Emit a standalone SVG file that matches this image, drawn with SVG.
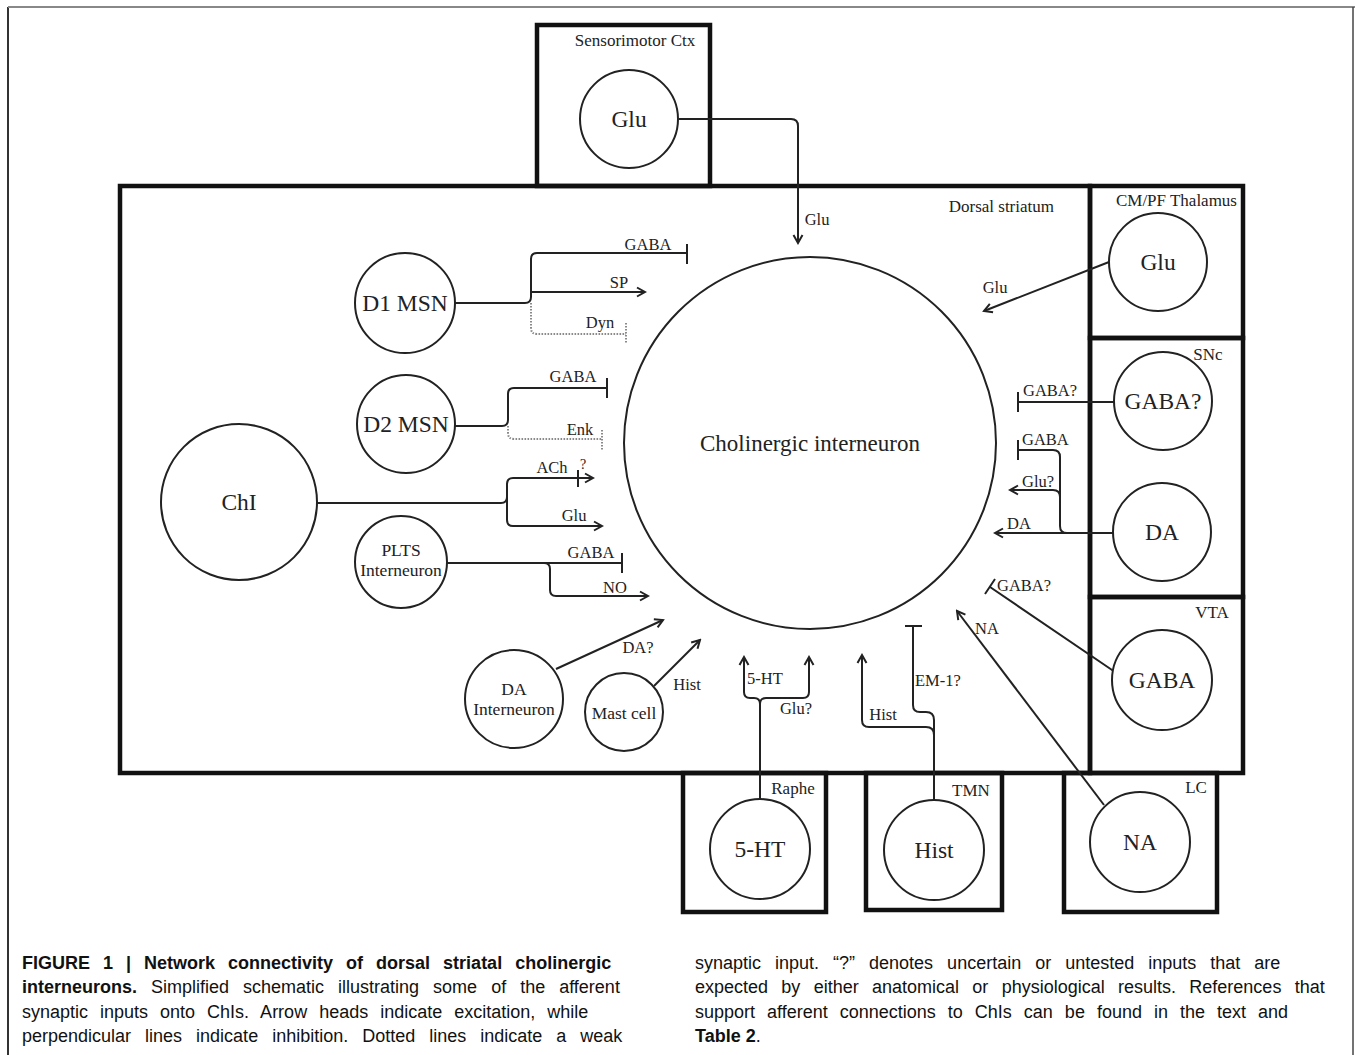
<svg xmlns="http://www.w3.org/2000/svg" width="1355" height="1055" viewBox="0 0 1355 1055">
<style>
.box{fill:none;stroke:#111;stroke-width:4.5}
.cell{fill:#fff;stroke:#222;stroke-width:2}
.ln{fill:none;stroke:#222;stroke-width:2}
.dot{fill:none;stroke:#8a8a8a;stroke-width:2;stroke-dasharray:1.6 1.4}
.lbl{font-family:"Liberation Serif","Times New Roman",serif;fill:#222}
.n{font-size:23.5px;text-anchor:middle}
.sm{font-size:17.5px;text-anchor:middle}
.s{font-size:16.5px}
.r{font-size:17px}
.m{text-anchor:middle}
.e{text-anchor:end}
.cap{font-family:"Liberation Sans",Arial,sans-serif;font-size:18px;fill:#111}
.b{font-weight:bold}
</style>
<defs>
<marker id="arr" markerWidth="12" markerHeight="12" viewBox="0 0 12 12" refX="10" refY="6" orient="auto" markerUnits="userSpaceOnUse">
<path d="M2,1.5 L10,6 L2,10.5" fill="none" stroke="#222" stroke-width="2"/>
</marker>
</defs>
<rect width="1355" height="1055" fill="#fff"/>
<g id="frame">
<path d="M8,1055 V7" stroke="#333" stroke-width="2" fill="none"/>
<path d="M8,7 H1355" stroke="#888" stroke-width="2" fill="none"/>
<path d="M1353,7 V1055" stroke="#444" stroke-width="1.5" fill="none"/>
</g>
<g id="regions">
<rect class="box" x="120" y="186" width="970" height="587"/>
<rect class="box" x="537" y="25" width="173" height="161"/>
<rect class="box" x="1090" y="186" width="153" height="152"/>
<rect class="box" x="1090" y="338" width="153" height="259"/>
<rect class="box" x="1090" y="597" width="153" height="176"/>
<rect class="box" x="683" y="773" width="143" height="139"/>
<rect class="box" x="866" y="773" width="136" height="137"/>
<rect class="box" x="1064" y="773" width="153" height="139"/>
<g class="lbl r">
<text x="635" y="46" class="m">Sensorimotor Ctx</text>
<text x="1054" y="212" class="e">Dorsal striatum</text>
<text x="1237" y="206" class="e">CM/PF Thalamus</text>
<text x="1208" y="360" class="m">SNc</text>
<text x="1212" y="618" class="m">VTA</text>
<text x="793" y="794" class="m">Raphe</text>
<text x="971" y="796" class="m">TMN</text>
<text x="1196" y="793" class="m">LC</text>
</g>
</g>
<g id="connectors">
<path class="ln" d="M679,119 H791 Q798,119 798,126 V243" marker-end="url(#arr)"/>
<path class="ln" d="M1109,262 L984,311" marker-end="url(#arr)"/>
<path class="ln" d="M1114,402 H1018 M1018,392 V412"/>
<path class="ln" d="M1113,533 H995" marker-end="url(#arr)"/>
<path class="ln" d="M1067,533 Q1060,533 1060,526 V457 Q1060,450 1053,450 H1018 M1018,440 V460"/>
<path class="ln" d="M1060,497 Q1060,490 1053,490 H1010" marker-end="url(#arr)"/>
<path class="ln" d="M1115,672 L990,587 M995,579 L985,594"/>
<path class="ln" d="M1104,805 L957,611" marker-end="url(#arr)"/>
<path class="ln" d="M934,800 V720 Q934,712 926,712 H920 Q913,712 913,705 V626 M905,626 H922"/>
<path class="ln" d="M934,735 Q934,727 926,727 H869 Q862,727 862,720 V655" marker-end="url(#arr)"/>
<path class="ln" d="M760,799 V704 Q760,698 754,698 H750 Q744,698 744,692 V657" marker-end="url(#arr)"/>
<path class="ln" d="M760,704 Q760,698 766,698 H803 Q809,698 809,692 V657" marker-end="url(#arr)"/>
<path class="ln" d="M654,686 L700,640" marker-end="url(#arr)"/>
<path class="ln" d="M556,669 L663,620" marker-end="url(#arr)"/>
<path class="ln" d="M447,563 H622 M622,553 V573"/>
<path class="ln" d="M544,563 Q550,563 550,569 V590 Q550,596 556,596 H648" marker-end="url(#arr)"/>
<path class="ln" d="M316,503 H501 Q507,503 507,497 V484 Q507,478 513,478 H593" marker-end="url(#arr)"/>
<path class="ln" d="M578,470 V487"/>
<path class="ln" d="M507,497 V520 Q507,526 513,526 H602" marker-end="url(#arr)"/>
<path class="ln" d="M455,426 H502 Q508,426 508,420 V394 Q508,388 514,388 H607 M607,378 V398"/>
<path class="dot" d="M508,426 V433 Q508,439 514,439 H602 M602,430 V450"/>
<path class="ln" d="M455,303 H525 Q531,303 531,297 V259 Q531,253 537,253 H687 M687,244 V264"/>
<path class="ln" d="M531,292 H645" marker-end="url(#arr)"/>
<path class="dot" d="M531,303 V328 Q531,334 537,334 H626 M626,323 V344"/>
<g class="lbl s">
<text x="817" y="225" class="m">Glu</text>
<text x="995" y="293" class="m">Glu</text>
<text x="1023" y="396">GABA?</text>
<text x="1022" y="445">GABA</text>
<text x="1022" y="487">Glu?</text>
<text x="1007" y="529">DA</text>
<text x="997" y="591">GABA?</text>
<text x="975" y="634">NA</text>
<text x="883" y="720" class="m">Hist</text>
<text x="915" y="686">EM-1?</text>
<text x="747" y="684">5-HT</text>
<text x="796" y="714" class="m">Glu?</text>
<text x="687" y="690" class="m">Hist</text>
<text x="638" y="653" class="m">DA?</text>
<text x="591" y="558" class="m">GABA</text>
<text x="615" y="593" class="m">NO</text>
<text x="552" y="473" class="m">ACh</text>
<text x="583" y="469" class="m" style="font-size:14px">?</text>
<text x="574" y="521" class="m">Glu</text>
<text x="573" y="382" class="m">GABA</text>
<text x="580" y="435" class="m">Enk</text>
<text x="648" y="250" class="m">GABA</text>
<text x="619" y="288" class="m">SP</text>
<text x="600" y="328" class="m">Dyn</text>
</g>
</g>
<g id="node-chol">
<circle class="cell" cx="810" cy="443" r="186" fill="none"/>
<text class="lbl" x="810" y="451" text-anchor="middle" style="font-size:23px">Cholinergic interneuron</text>
</g>
<g id="node-ctx-glu">
<circle class="cell" cx="629" cy="119" r="49"/>
<text class="lbl n" x="629" y="127">Glu</text>
</g>
<g id="node-thal-glu">
<circle class="cell" cx="1158" cy="262" r="49"/>
<text class="lbl n" x="1158" y="270">Glu</text>
</g>
<g id="node-snc-gaba">
<circle class="cell" cx="1163" cy="401" r="49"/>
<text class="lbl n" x="1163" y="409">GABA?</text>
</g>
<g id="node-snc-da">
<circle class="cell" cx="1162" cy="532" r="49"/>
<text class="lbl n" x="1162" y="540">DA</text>
</g>
<g id="node-vta-gaba">
<circle class="cell" cx="1162" cy="680" r="50"/>
<text class="lbl n" x="1162" y="688">GABA</text>
</g>
<g id="node-lc-na">
<circle class="cell" cx="1140" cy="842" r="50"/>
<text class="lbl n" x="1140" y="850">NA</text>
</g>
<g id="node-tmn-hist">
<circle class="cell" cx="934" cy="850" r="50"/>
<text class="lbl n" x="934" y="858">Hist</text>
</g>
<g id="node-raphe-5ht">
<circle class="cell" cx="760" cy="849" r="50"/>
<text class="lbl n" x="760" y="857">5-HT</text>
</g>
<g id="node-mast">
<circle class="cell" cx="624" cy="712" r="39"/>
<text class="lbl sm" x="624" y="719">Mast cell</text>
</g>
<g id="node-da-int">
<circle class="cell" cx="514" cy="699" r="49"/>
<text class="lbl sm" x="514" y="695">DA</text>
<text class="lbl sm" x="514" y="715">Interneuron</text>
</g>
<g id="node-plts">
<circle class="cell" cx="401" cy="562" r="46"/>
<text class="lbl sm" x="401" y="556">PLTS</text>
<text class="lbl sm" x="401" y="576">Interneuron</text>
</g>
<g id="node-chi">
<circle class="cell" cx="239" cy="502" r="78"/>
<text class="lbl n" x="239" y="510">ChI</text>
</g>
<g id="node-d1">
<circle class="cell" cx="405" cy="303" r="50"/>
<text class="lbl n" x="405" y="311">D1 MSN</text>
</g>
<g id="node-d2">
<circle class="cell" cx="406" cy="424" r="49"/>
<text class="lbl n" x="406" y="432">D2 MSN</text>
</g>
<g id="caption" class="cap">
<text x="22" y="969" class="b" style="word-spacing:8px">FIGURE 1 | Network connectivity of dorsal striatal cholinergic</text>
<text x="22" y="993" style="word-spacing:9px"><tspan class="b">interneurons.</tspan> Simplified schematic illustrating some of the afferent</text>
<text x="22" y="1018" style="word-spacing:7px">synaptic inputs onto ChIs. Arrow heads indicate excitation, while</text>
<text x="22" y="1042" style="word-spacing:9px">perpendicular lines indicate inhibition. Dotted lines indicate a weak</text>
<text x="695" y="969" style="word-spacing:9px">synaptic input. “?” denotes uncertain or untested inputs that are</text>
<text x="695" y="993" style="word-spacing:8.3px">expected by either anatomical or physiological results. References that</text>
<text x="695" y="1018" style="word-spacing:7px">support afferent connections to ChIs can be found in the text and</text>
<text x="695" y="1042"><tspan class="b">Table 2</tspan>.</text>
</g>
</svg>
